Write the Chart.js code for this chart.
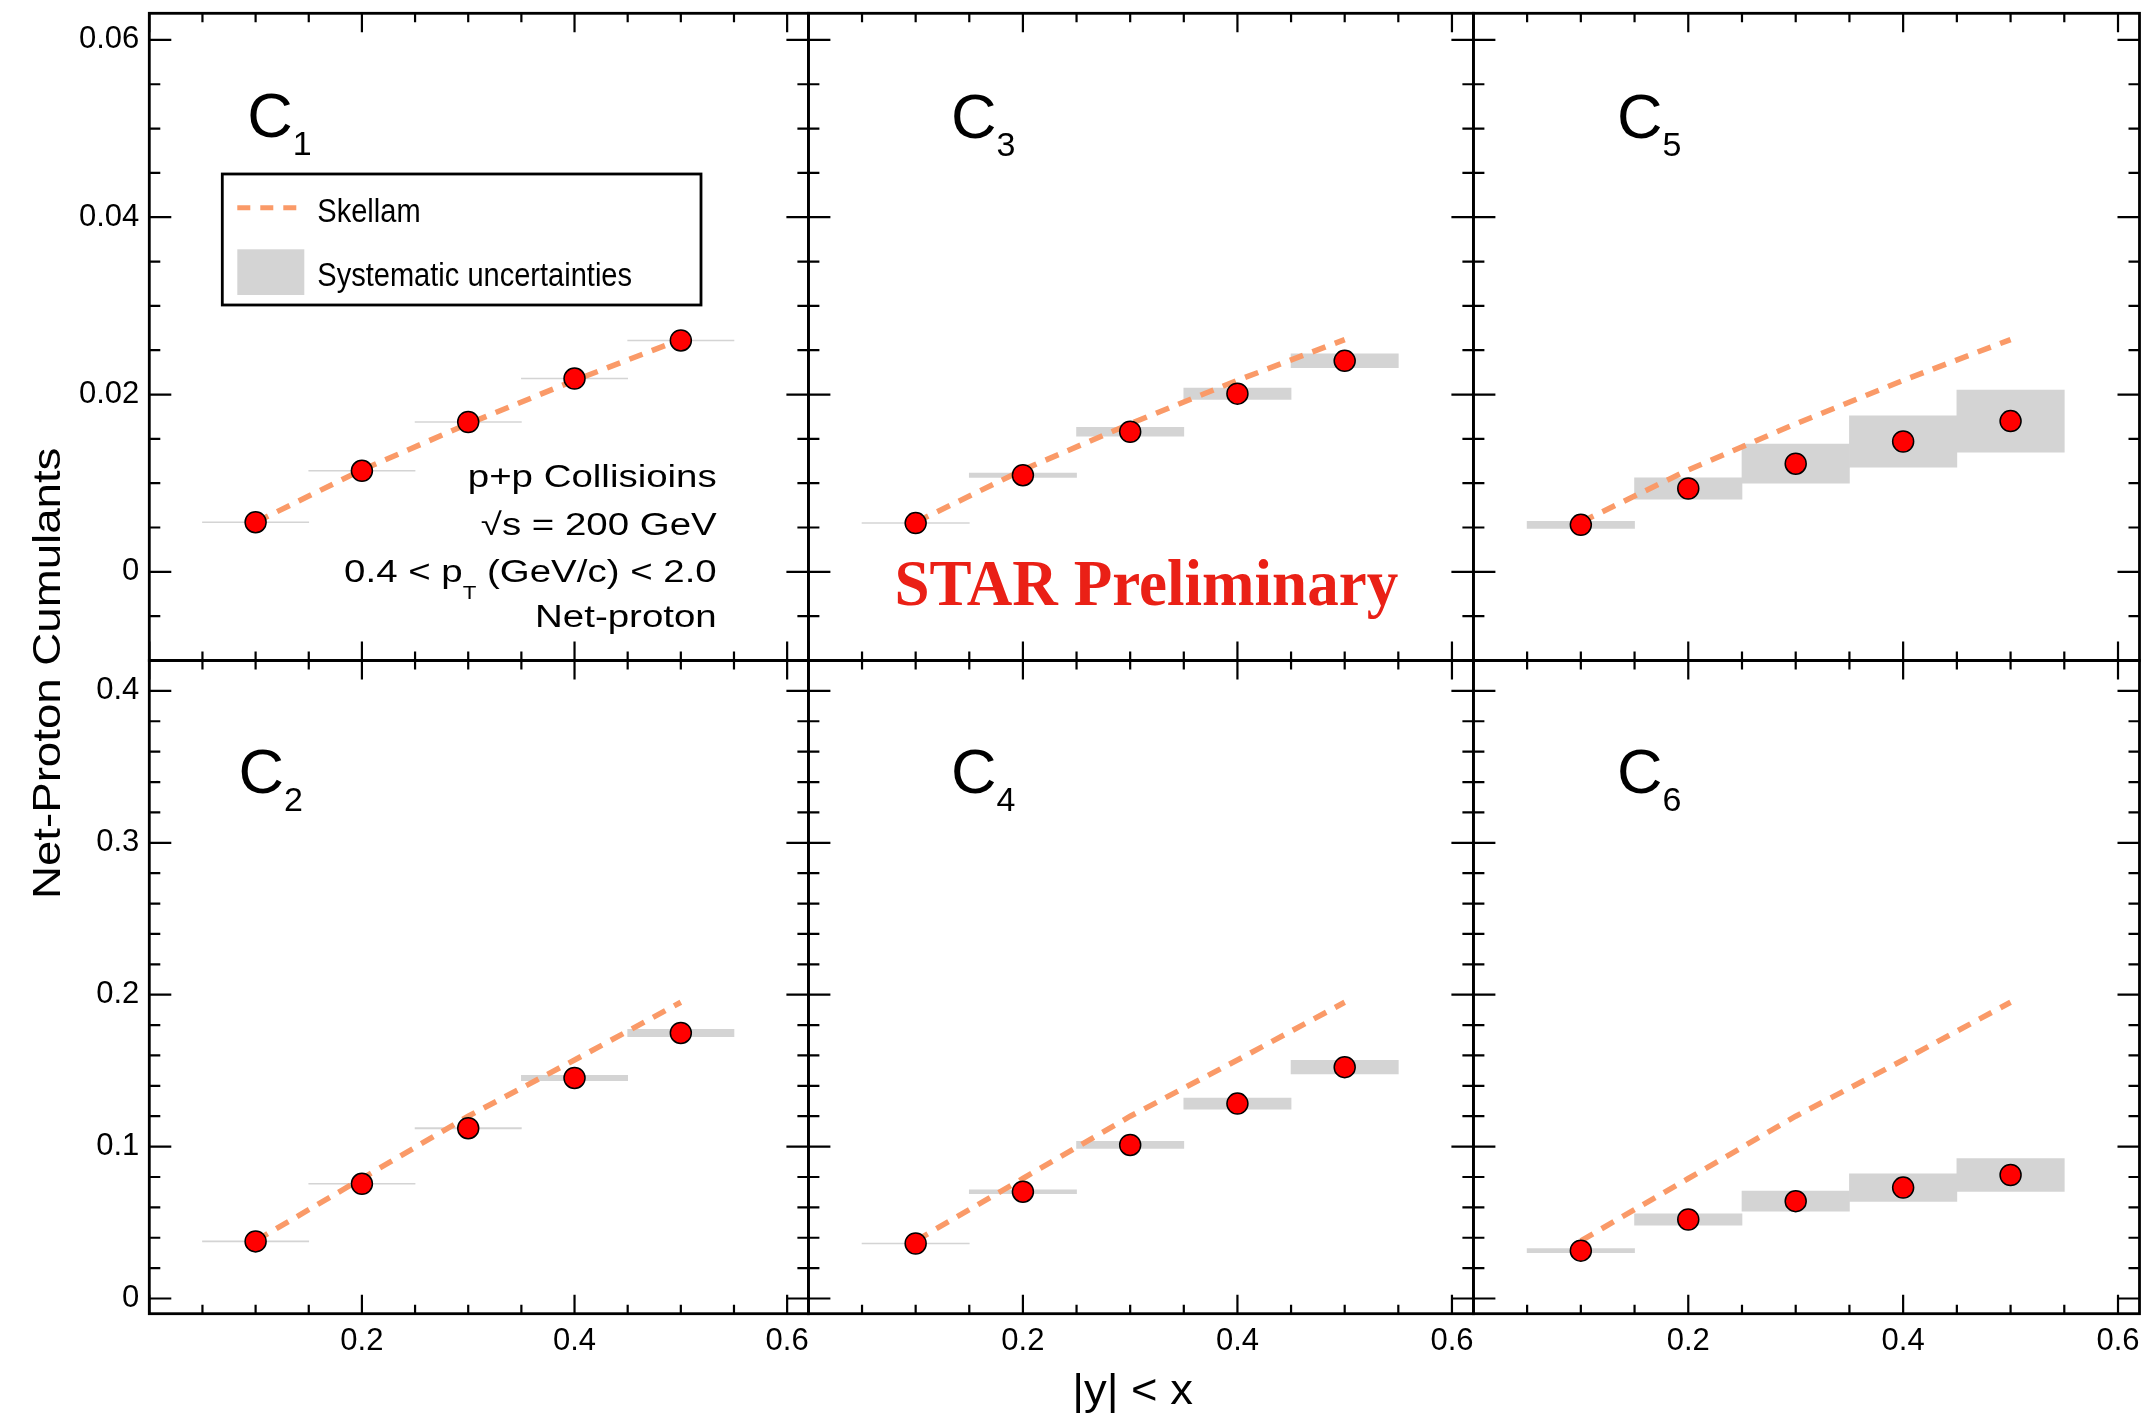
<!DOCTYPE html>
<html>
<head>
<meta charset="utf-8">
<title>Net-proton cumulants vs rapidity window</title>
<script src="https://cdn.jsdelivr.net/npm/chart.js@4.4.0/dist/chart.umd.min.js"></script>
<style>
  html, body { margin: 0; padding: 0; background: #fff; }
  #wrap { width: 2152px; height: 1414px; position: relative; background: #fff; }
  canvas { display: block; }
</style>
</head>
<body>
<div id="wrap"><canvas id="cumulants" width="2152" height="1414"></canvas></div>
<script>
// |y| < x windows (bin centres)
const rapidity = [0.1, 0.2, 0.3, 0.4, 0.5];

const c1 = [0.0056, 0.0114, 0.0169, 0.0218, 0.0261];
const sys1 = [0.00005, 0.00005, 0.00005, 0.00005, 0.00005];
const c3 = [0.0055, 0.0109, 0.0158, 0.0201, 0.0238];
const sys3 = [0.00005, 0.00025, 0.0005, 0.00064, 0.00078];
const c5 = [0.0053, 0.0094, 0.0122, 0.0147, 0.0170];
const sys5 = [0.0004, 0.0012, 0.0022, 0.0029, 0.0035];
const c2 = [0.0376, 0.0755, 0.1121, 0.1452, 0.1748];
const sys2 = [0.0003, 0.0003, 0.0005, 0.0018, 0.0024];
const c4 = [0.0362, 0.0703, 0.1011, 0.1283, 0.1523];
const sys4 = [0.0003, 0.0013, 0.0023, 0.0036, 0.0045];
const c6 = [0.0315, 0.0520, 0.0641, 0.0730, 0.0813];
const sys6 = [0.0013, 0.0037, 0.0066, 0.0091, 0.0108];

// Skellam baseline: odd orders follow C1, even orders follow C2
const skellamOdd = [0.0056, 0.0115, 0.0167, 0.0216, 0.0262];
const skellamEven = [0.038, 0.079, 0.120, 0.157, 0.195];

// tick labels
const xTickLabels = ['0.2', '0.4', '0.6'];
const yTopTickLabels = ['0', '0.02', '0.04', '0.06'];
const yBottomTickLabels = ['0', '0.1', '0.2', '0.3', '0.4'];

// axis ranges
const xRange = [0, 0.62];
const yTopRange = [-0.01, 0.063];
const yBottomRange = [-0.01, 0.42];

// colours
const pointRed = '#ff0000';
const skellamOrange = '#fa9a68';
const sysGray = '#d4d4d4';
const starRed = '#ea2016';

const FONT = "'Liberation Sans', Arial, Helvetica, sans-serif";
Chart.defaults.font.family = FONT;
Chart.defaults.font.size = 31;
Chart.defaults.color = '#000';

// panel layout: column/row in the 3x2 grid, label offset from panel corner
const panels = [
  { order: 1, col: 0, row: 0, values: c1, sys: sys1, skellam: skellamOdd, labelAt: [101, 123.4] },
  { order: 3, col: 1, row: 0, values: c3, sys: sys3, skellam: skellamOdd, labelAt: [145.6, 124.6] },
  { order: 5, col: 2, row: 0, values: c5, sys: sys5, skellam: skellamOdd, labelAt: [146.6, 124.6] },
  { order: 2, col: 0, row: 1, values: c2, sys: sys2, skellam: skellamEven, labelAt: [92.3, 132.5] },
  { order: 4, col: 1, row: 1, values: c4, sys: sys4, skellam: skellamEven, labelAt: [145.6, 132.5] },
  { order: 6, col: 2, row: 1, values: c6, sys: sys6, skellam: skellamEven, labelAt: [146.6, 132.5] }
];

const colWeights = [659.1, 665, 666.1];
const rowWeights = [647.2, 653.2];

/**
 * Build datasets for every panel: systematic boxes, Skellam line, data points
 */
const datasets = [];
panels.forEach(p => {
  const xAxisID = 'x' + p.col;
  const yAxisID = 'y' + p.row;

  datasets.push({
    type: 'bar',
    label: 'Systematic uncertainties C' + p.order,
    xAxisID, yAxisID,
    data: rapidity.map((x, i) => ({ x: x, y: [p.values[i] - p.sys[i], p.values[i] + p.sys[i]] })),
    backgroundColor: sysGray,
    borderWidth: 0,
    grouped: false,
    barPercentage: 1,
    categoryPercentage: 1,
    order: 3
  });

  datasets.push({
    type: 'line',
    label: 'Skellam C' + p.order,
    xAxisID, yAxisID,
    data: rapidity.map((x, i) => ({ x: x, y: p.skellam[i] })),
    borderColor: skellamOrange,
    borderWidth: 5.5,
    borderDash: [14, 10],
    pointRadius: 0,
    fill: false,
    tension: 0,
    order: 2
  });

  datasets.push({
    type: 'scatter',
    label: 'C' + p.order,
    xAxisID, yAxisID,
    data: rapidity.map((x, i) => ({ x: x, y: p.values[i] })),
    backgroundColor: pointRed,
    borderColor: '#000',
    pointRadius: 10.5,
    pointHoverRadius: 10.5,
    pointBorderWidth: 1.5,
    order: 1
  });
});

function tickText(value, labels) {
  const s = String(Math.round(value * 1000) / 1000);
  return labels.includes(s) ? s : '';
}

function xScale(col) {
  return {
    type: 'linear', axis: 'x', position: 'bottom',
    stack: 'cols', stackWeight: colWeights[col], weight: col,
    min: xRange[0], max: xRange[1], offset: false,
    grid: { display: false, drawTicks: false },
    border: { display: false },
    ticks: {
      stepSize: 0.2, includeBounds: false, autoSkip: false, maxRotation: 0, padding: 9,
      callback: v => tickText(v, xTickLabels)
    },
    afterFit: s => { s.height = 100.3; s.paddingLeft = 0; s.paddingRight = 0; }
  };
}

function yScale(row) {
  const range = row === 0 ? yTopRange : yBottomRange;
  const labels = row === 0 ? yTopTickLabels : yBottomTickLabels;
  return {
    type: 'linear', axis: 'y', position: 'left',
    stack: 'rows', stackWeight: rowWeights[row], weight: row === 0 ? 1 : 0,
    min: range[0], max: range[1],
    grid: { display: false, drawTicks: false },
    border: { display: false },
    ticks: {
      stepSize: row === 0 ? 0.02 : 0.1, includeBounds: false, autoSkip: false, padding: 10,
      callback: v => tickText(v, labels)
    },
    afterFit: s => { s.width = 149.3; s.paddingTop = 0; s.paddingBottom = 0; }
  };
}

// ROOT-style frame with inward ticks on all four sides
function drawFrame(ctx, xs, ys, row) {
  const L = xs.left, R = xs.right, T = ys.top, B = ys.bottom;
  const yStep = row === 0 ? 0.005 : 0.02;
  const yEvery = row === 0 ? 4 : 5;
  ctx.save();
  ctx.strokeStyle = '#000';
  ctx.lineWidth = 2.2;
  ctx.beginPath();
  for (let i = 0; i * 0.05 <= xs.max + 1e-9; i++) {
    const px = xs.getPixelForValue(i * 0.05);
    const len = i % 4 === 0 ? 19 : 9;
    ctx.moveTo(px, B); ctx.lineTo(px, B - len);
    ctx.moveTo(px, T); ctx.lineTo(px, T + len);
  }
  for (let k = Math.ceil(ys.min / yStep - 1e-9); k * yStep <= ys.max + 1e-9; k++) {
    const py = ys.getPixelForValue(k * yStep);
    const len = k % yEvery === 0 ? 22 : 11;
    ctx.moveTo(L, py); ctx.lineTo(L + len, py);
    ctx.moveTo(R, py); ctx.lineTo(R - len, py);
  }
  ctx.stroke();
  ctx.lineWidth = 2.8;
  ctx.strokeRect(L, T, R - L, B - T);
  ctx.restore();
}

// text drawn with a horizontal stretch factor, segments may be sub-scripted
function drawRich(ctx, segments, x, y, sx, align, color) {
  ctx.save();
  ctx.fillStyle = color || '#000';
  ctx.textBaseline = 'alphabetic';
  ctx.textAlign = 'left';
  let total = 0;
  segments.forEach(s => { ctx.font = s.font; s.w = ctx.measureText(s.t).width * sx; total += s.w; });
  let cx = align === 'right' ? x - total : align === 'center' ? x - total / 2 : x;
  segments.forEach(s => {
    ctx.save();
    ctx.translate(cx, y + (s.dy || 0));
    ctx.scale(sx, 1);
    ctx.font = s.font;
    ctx.fillText(s.t, 0, 0);
    ctx.restore();
    cx += s.w;
  });
  ctx.restore();
}

const overlay = {
  id: 'overlay',
  afterDraw(chart) {
    const ctx = chart.ctx;
    panels.forEach(p => drawFrame(ctx, chart.scales['x' + p.col], chart.scales['y' + p.row], p.row));

    // cumulant order labels
    panels.forEach(p => {
      const L = chart.scales['x' + p.col].left;
      const T = chart.scales['y' + p.row].top;
      const x = L + p.labelAt[0] - 3;
      const y = T + p.labelAt[1];
      drawRich(ctx, [
        { t: 'C', font: '63px ' + FONT },
        { t: String(p.order), font: '34px ' + FONT, dy: 18.3 }
      ], x, y, 1, 'left');
    });

    const L0 = chart.scales.x0.left, T0 = chart.scales.y0.top;

    // legend
    ctx.save();
    ctx.strokeStyle = '#000';
    ctx.lineWidth = 2.8;
    ctx.strokeRect(L0 + 73, T0 + 160.7, 478.7, 131);
    ctx.strokeStyle = skellamOrange;
    ctx.lineWidth = 5;
    ctx.setLineDash([13, 10]);
    ctx.beginPath();
    ctx.moveTo(L0 + 88, T0 + 194.4);
    ctx.lineTo(L0 + 147, T0 + 194.4);
    ctx.stroke();
    ctx.setLineDash([]);
    ctx.fillStyle = sysGray;
    ctx.fillRect(L0 + 88, T0 + 236, 67, 45.7);
    ctx.restore();
    drawRich(ctx, [{ t: 'Skellam', font: '33px ' + FONT }], L0 + 168, T0 + 208.4, 0.88, 'left');
    drawRich(ctx, [{ t: 'Systematic uncertainties', font: '33px ' + FONT }], L0 + 168, T0 + 272.7, 0.88, 'left');

    // collision system text block
    const big = '31px ' + FONT;
    const right = L0 + 567.4;
    drawRich(ctx, [{ t: 'p+p Collisioins', font: big }], right, T0 + 473.4, 1.24, 'right');
    drawRich(ctx, [{ t: '\u221As = 200 GeV', font: big }], right, T0 + 521.7, 1.24, 'right');
    drawRich(ctx, [
      { t: '0.4 < p', font: big },
      { t: 'T', font: '18px ' + FONT, dy: 17 },
      { t: ' (GeV/c) < 2.0', font: big }
    ], right, T0 + 568.4, 1.24, 'right');
    drawRich(ctx, [{ t: 'Net-proton', font: big }], right, T0 + 613.4, 1.24, 'right');

    // STAR Preliminary
    const L1 = chart.scales.x1.left;
    drawRich(ctx, [{ t: 'STAR Preliminary', font: "bold 65px 'Liberation Serif', 'Times New Roman', serif" }],
      L1 + 86, T0 + 591.7, 0.97, 'left', starRed);

    // axis titles
    ctx.save();
    ctx.translate(60, 673.3);
    ctx.rotate(-Math.PI / 2);
    drawRich(ctx, [{ t: 'Net-Proton Cumulants', font: '39.5px ' + FONT }], 0, 0, 1.155, 'center');
    ctx.restore();
    drawRich(ctx, [{ t: '|y| < x', font: '42px ' + FONT }], 1132.5, 1404, 1.08, 'center');
  }
};

new Chart(document.getElementById('cumulants'), {
  type: 'scatter',
  data: { datasets: datasets },
  options: {
    responsive: false,
    animation: false,
    devicePixelRatio: 1,
    events: [],
    layout: { padding: { left: 0, top: 13.3, right: 12.5, bottom: 0 } },
    plugins: {
      legend: { display: false },
      tooltip: { enabled: false }
    },
    scales: {
      x0: xScale(0),
      x1: xScale(1),
      x2: xScale(2),
      y0: yScale(0),
      y1: yScale(1)
    }
  },
  plugins: [overlay]
});
</script>
</body>
</html>
